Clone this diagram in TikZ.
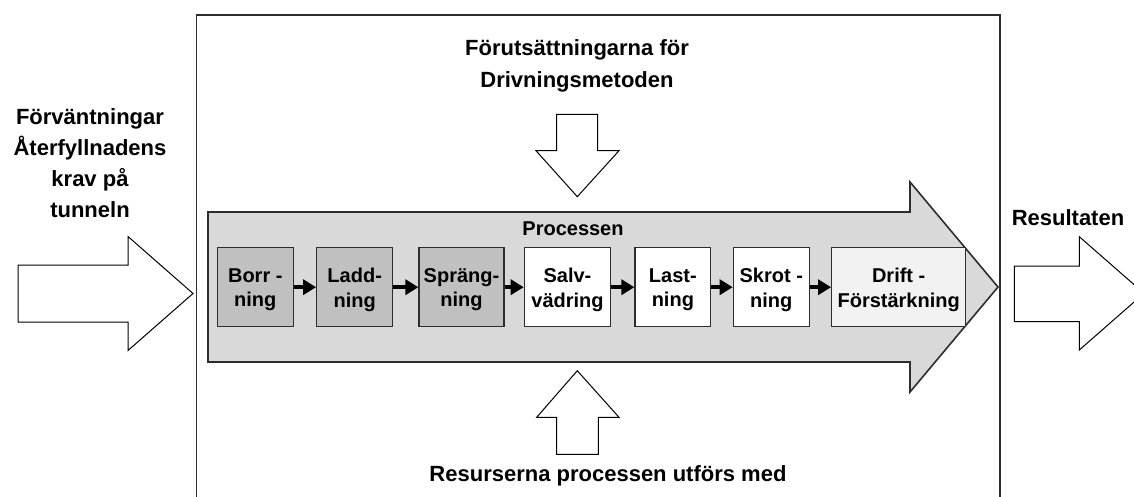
\documentclass[tikz,border=0pt]{standalone}
\usepackage{fontspec}
\setmainfont{Liberation Sans}
\usetikzlibrary{arrows.meta}

\definecolor{stepgray}{RGB}{192,192,192}
\definecolor{bandgray}{RGB}{217,217,217}
\definecolor{lightstep}{RGB}{242,242,242}
\definecolor{edgegray}{RGB}{45,45,45}

\tikzset{
  bigarrow/.style={draw=black, line width=1pt, fill=white, line join=miter},
  stepbox/.style={draw=edgegray, line width=1.2pt, inner sep=0pt,
    minimum height=79pt},
  steptext/.style={align=center, inner sep=0pt,
    font=\fontsize{20}{24.5}\selectfont\bfseries},
  outerlabel/.style={align=center, inner sep=0pt,
    font=\fontsize{22}{32}\selectfont\bfseries},
  flowarrow/.style={line width=3.5pt, -{Triangle[length=13pt,width=15pt]}, black},
}

\begin{document}
\begin{tikzpicture}[x=1pt, y=-1pt]
  \useasboundingbox (0,0) rectangle (1134,497);
  \clip (0,0) rectangle (1134,497);

  % frame around the tunnelling method
  \draw[line width=1.6pt, draw=edgegray] (196.5,515) -- (196.5,15) -- (1000,15) -- (1000,515);

  % input, output and influence arrows
  \draw[bigarrow] (18,265) -- (128,265) -- (128,236.5) -- (193,293.5)
    -- (128,350.5) -- (128,322) -- (18,322) -- cycle;
  \draw[bigarrow] (1014.3,266) -- (1079.3,266) -- (1079.3,236.7) -- (1144,293.3)
    -- (1079.3,350) -- (1079.3,321.7) -- (1014.3,321.7) -- cycle;
  \draw[bigarrow] (556.7,114.3) -- (597.7,114.3) -- (597.7,150.7) -- (619,150.7)
    -- (577.3,196.7) -- (536,150.7) -- (556.7,150.7) -- cycle;
  \draw[bigarrow] (556.7,454.3) -- (598.3,454.3) -- (598.3,417.3) -- (619,417.3)
    -- (577.3,370.7) -- (536.7,417.3) -- (556.7,417.3) -- cycle;

  % the process band
  \draw[draw=edgegray, line width=1.6pt, fill=bandgray, line join=miter]
    (208,212) -- (910,212) -- (910,182) -- (998,287) -- (910,392)
    -- (910,362) -- (208,362) -- cycle;

  % labels
  \node[outerlabel, anchor=north, font=\fontsize{22}{31}\selectfont\bfseries] (expect) at (90,108)
    {Förväntningar\\Återfyllnadens\\krav på\\tunneln};
  \node[outerlabel] (premise) at (577,66.3) {Förutsättningarna för\\Drivningsmetoden};
  \node[outerlabel, anchor=base] (resources) at (608,481.7) {Resurserna processen utförs med};
  \node[outerlabel, anchor=base] (results) at (1068,225) {Resultaten};
  \node[steptext, anchor=base] (process) at (573,235) {Processen};

  % process steps
  \node[stepbox, fill=stepgray, minimum width=76pt] (s1) at (255.3,287.2) {};
  \node[stepbox, fill=stepgray, minimum width=76pt] (s2) at (354.7,287.2) {};
  \node[stepbox, fill=stepgray, minimum width=85pt] (s3) at (461.5,287.2) {};
  \node[stepbox, fill=white, minimum width=86.4pt] (s4) at (567.5,287.2) {};
  \node[stepbox, fill=white, minimum width=75.7pt] (s5) at (672.85,287.2) {};
  \node[stepbox, fill=white, minimum width=76pt] (s6) at (771.3,287.2) {};
  \node[stepbox, fill=lightstep, minimum width=134pt] (s7) at (898.7,287.2) {};

  \node[steptext] (t1) at ([yshift=-2.5pt]s1.center) {Borr -\\ning};
  \node[steptext] (t2) at ([yshift=-2.5pt]s2.center) {Ladd-\\ning};
  \node[steptext] (t3) at ([yshift=-2.5pt]s3.center) {Spräng-\\ning};
  \node[steptext] (t4) at ([yshift=-2.5pt]s4.center) {Salv-\\vädring};
  \node[steptext] (t5) at ([yshift=-2.5pt]s5.center) {Last-\\ning};
  \node[steptext] (t6) at ([yshift=-2.5pt]s6.center) {Skrot -\\ning};
  \node[steptext] (t7) at ([yshift=-2.5pt]s7.center) {Drift -\\Förstärkning};

  % step order
  \foreach \a/\b in {s1/s2, s2/s3, s3/s4, s4/s5, s5/s6, s6/s7}
    \draw[flowarrow] (\a) -- (\b);
\end{tikzpicture}
\end{document}
